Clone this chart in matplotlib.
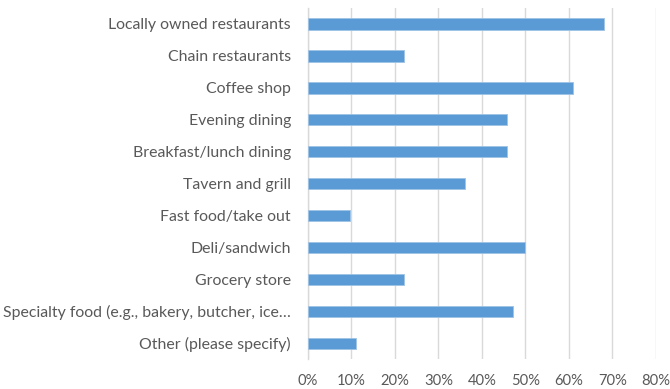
import matplotlib
matplotlib.use("Agg")
import matplotlib.pyplot as plt
from matplotlib.ticker import FuncFormatter, MultipleLocator

categories = [
    "Locally owned restaurants",
    "Chain restaurants",
    "Coffee shop",
    "Evening dining",
    "Breakfast/lunch dining",
    "Tavern and grill",
    "Fast food/take out",
    "Deli/sandwich",
    "Grocery store",
    "Specialty food (e.g., bakery, butcher, ice\u2026",
    "Other (please specify)",
]
values = [0.680, 0.222, 0.610, 0.458, 0.458, 0.361, 0.097, 0.500, 0.222, 0.472, 0.111]

text_color = "#595959"
grid_color = "#D9D9D9"
bar_color = "#5B9BD5"

plt.rcParams["font.family"] = ["Lato", "DejaVu Sans"]

fig = plt.figure(figsize=(6.7, 3.89), dpi=100)
ax = fig.add_axes([0.4593, 0.0763, 0.9791 - 0.4593, 0.9794 - 0.0763])

y = list(range(len(categories)))
ax.barh(y, values, height=0.355, color=bar_color, edgecolor="#9DC3E6",
        linewidth=0.6, zorder=3)

ax.set_ylim(len(categories) - 0.5, -0.5)
ax.set_xlim(0, 0.8)
ax.set_yticks(y)
ax.set_yticklabels(categories)
ax.xaxis.set_major_locator(MultipleLocator(0.1))
ax.xaxis.set_major_formatter(FuncFormatter(lambda v, _: f"{v * 100:.0f}%"))

ax.grid(axis="x", color=grid_color, linewidth=1.0, zorder=0)
for side in ("top", "right", "bottom"):
    ax.spines[side].set_visible(False)
ax.spines["left"].set_color(grid_color)
ax.spines["left"].set_linewidth(1.0)

ax.tick_params(axis="y", length=0, pad=12, labelsize=11.4, labelcolor=text_color)
ax.tick_params(axis="x", length=0, pad=10.5, labelsize=10.6, labelcolor=text_color)

fig.savefig("out.png", dpi=100)
